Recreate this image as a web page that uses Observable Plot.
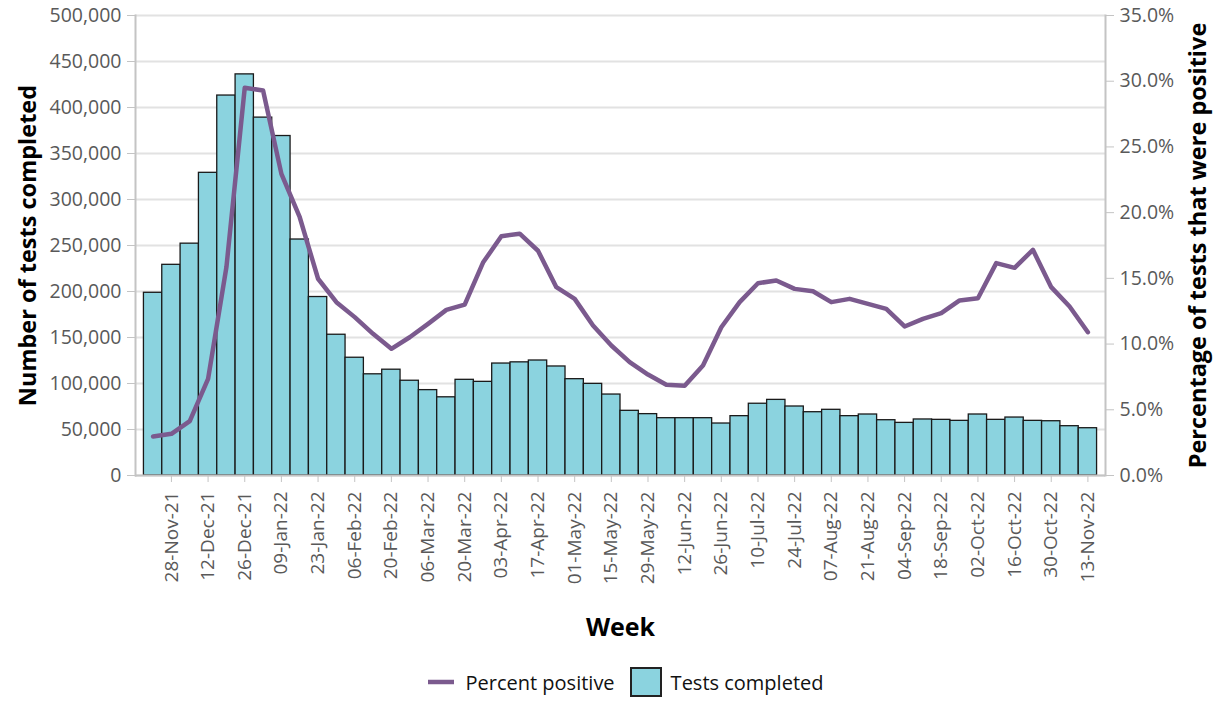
<!DOCTYPE html>
<html><head><meta charset="utf-8">
<script src="https://cdn.jsdelivr.net/npm/d3@7"></script>
<script src="https://cdn.jsdelivr.net/npm/@observablehq/plot@0.6"></script>
<style>
body{margin:0;background:#fff;font-family:"Open Sans",sans-serif;}
svg g[aria-label="y-axis label"], svg g[aria-label="x-axis label"]{font-weight:700;fill:#000;}
svg g[aria-label="y-axis label"] text{font-size:23.5px;}
svg g[aria-label="x-axis label"] text{font-size:25px;}
#legend{display:flex;justify-content:center;align-items:center;height:40px;font-size:20px;color:#111;padding-left:34px;}
#legend .t1{margin:0 15px 0 12px;}
#legend .t2{margin:0 0 0 9px;}
</style></head><body>
<div id="chart"></div>
<div id="legend">
  <svg width="26" height="8"><line x1="0" y1="4" x2="26" y2="4" stroke="#7b5a8e" stroke-width="4.5"/></svg><span class="t1">Percent positive</span>
  <svg width="32" height="30"><rect x="1" y="1" width="30" height="28" fill="#8bd3df" stroke="#222" stroke-width="2"/></svg><span class="t2">Tests completed</span>
</div>
<script>
const weeks = ["21-Nov-21","28-Nov-21","05-Dec-21","12-Dec-21","19-Dec-21","26-Dec-21","02-Jan-22","09-Jan-22","16-Jan-22","23-Jan-22","30-Jan-22","06-Feb-22","13-Feb-22","20-Feb-22","27-Feb-22","06-Mar-22","13-Mar-22","20-Mar-22","27-Mar-22","03-Apr-22","10-Apr-22","17-Apr-22","24-Apr-22","01-May-22","08-May-22","15-May-22","22-May-22","29-May-22","05-Jun-22","12-Jun-22","19-Jun-22","26-Jun-22","03-Jul-22","10-Jul-22","17-Jul-22","24-Jul-22","31-Jul-22","07-Aug-22","14-Aug-22","21-Aug-22","28-Aug-22","04-Sep-22","11-Sep-22","18-Sep-22","25-Sep-22","02-Oct-22","09-Oct-22","16-Oct-22","23-Oct-22","30-Oct-22","06-Nov-22","13-Nov-22"];
const testsCompleted = [198600,229000,252000,329000,413000,436000,389000,369000,256500,194000,153000,128000,110000,115000,103000,92800,85000,104000,101800,121700,123000,125000,118500,104700,99600,88000,70300,66700,62300,62300,62300,56500,64500,78000,82200,75000,68800,71400,64500,66300,60100,57200,60900,60500,59400,66300,60500,63000,59400,59000,53600,51400];
const percentPositive = [2.97,3.17,4.13,7.36,15.85,29.5,29.3,22.95,19.65,14.97,13.19,12.05,10.78,9.64,10.52,11.54,12.6,13.0,16.2,18.2,18.4,17.1,14.33,13.44,11.41,9.89,8.62,7.68,6.9,6.82,8.37,11.28,13.19,14.63,14.84,14.2,14.02,13.19,13.44,13.06,12.68,11.34,11.92,12.35,13.32,13.49,16.16,15.8,17.17,14.33,12.86,10.9];
const xTickLabels = ["28-Nov-21","12-Dec-21","26-Dec-21","09-Jan-22","23-Jan-22","06-Feb-22","20-Feb-22","06-Mar-22","20-Mar-22","03-Apr-22","17-Apr-22","01-May-22","15-May-22","29-May-22","12-Jun-22","26-Jun-22","10-Jul-22","24-Jul-22","07-Aug-22","21-Aug-22","04-Sep-22","18-Sep-22","02-Oct-22","16-Oct-22","30-Oct-22","13-Nov-22"];
const leftTicks = [0,50000,100000,150000,200000,250000,300000,350000,400000,450000,500000];
const rightTicks = [0,5,10,15,20,25,30,35];

const Y_MAX = 500000, P_MAX = 35;
const toY = p => p * Y_MAX / P_MAX;
const data = weeks.map((w,i)=>({week:w, tests:testsCompleted[i], pct:percentPositive[i]}));

const chart = Plot.plot({
  width:1217, height:662,
  marginLeft:135, marginRight:112, marginTop:15, marginBottom:187,
  style:{fontFamily:"'Open Sans', sans-serif", fontSize:"19.5px", color:"#595959", background:"#fff", overflow:"visible"},
  x:{type:"band", domain:weeks, paddingInner:0, paddingOuter:0.46, align:0.5, round:false},
  y:{domain:[0,Y_MAX]},
  marks:[
    Plot.gridY(leftTicks,{stroke:"#e2e2e2", strokeOpacity:1, strokeWidth:2}),
    Plot.barY(data,{x:"week", y:"tests", fill:"#8bd3df", stroke:"#1a1a1a", strokeWidth:1.3}),
    Plot.ruleY([0],{stroke:"#c4c4c4", strokeWidth:2}),
    Plot.frame({anchor:"left", stroke:"#c4c4c4", strokeWidth:2}),
    Plot.frame({anchor:"right", stroke:"#c4c4c4", strokeWidth:2}),
    Plot.lineY(data,{x:"week", y:d=>toY(d.pct), stroke:"#7b5a8e", strokeWidth:4.5, strokeLinejoin:"round"}),
    Plot.axisY(leftTicks,{anchor:"left", tickFormat:d3.format(","), tickSize:8, tickPadding:6, stroke:"#c4c4c4", fill:"#595959",
      label:"Number of tests completed", labelAnchor:"center", labelArrow:false, labelOffset:116}),
    Plot.axisY(rightTicks.map(toY),{anchor:"right", tickFormat:d=>(d*P_MAX/Y_MAX).toFixed(1)+"%", tickSize:8, tickPadding:6, stroke:"#c4c4c4", fill:"#595959",
      label:"Percentage of tests that were positive", labelAnchor:"center", labelArrow:false, labelOffset:100}),
    Plot.axisX(xTickLabels,{tickRotate:-90, tickSize:7, tickPadding:9, stroke:"#c4c4c4", fill:"#595959", fontSize:19,
      label:"Week", labelAnchor:"center", labelArrow:false, labelOffset:160})
  ]
});
document.getElementById("chart").appendChild(chart);
</script>
</body></html>
